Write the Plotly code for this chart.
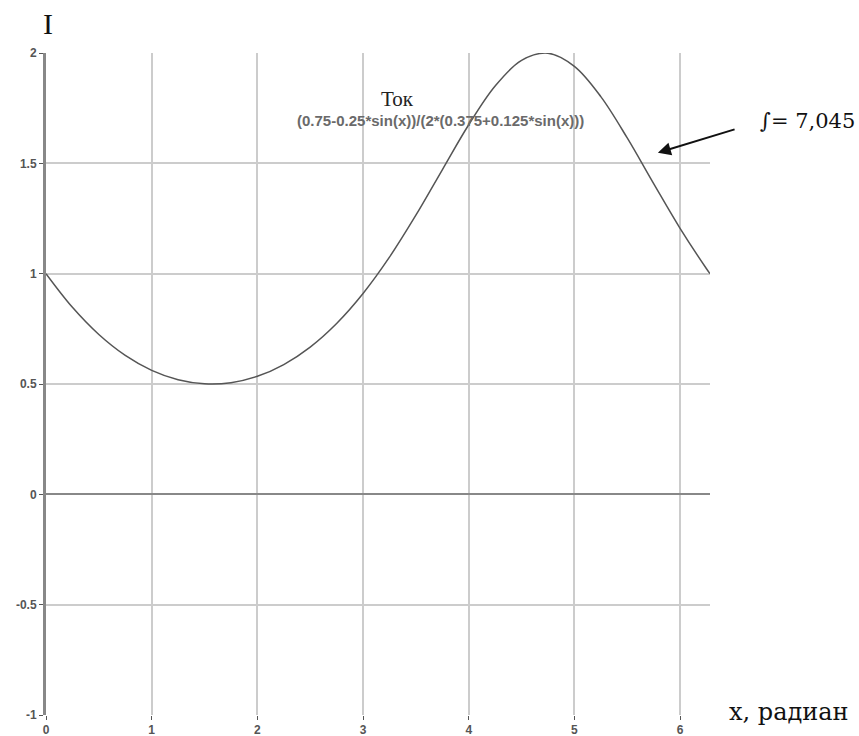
import plotly.graph_objects as go
import math

# Sampled current values I(x) over one period
x_vals = [0.0, 0.25, 0.5, 0.75, 1.0, 1.25, 1.5, 1.75, 2.0, 2.25, 2.5, 2.75, 3.0,
          3.25, 3.5, 3.75, 4.0, 4.25, 4.5, 4.75, 5.0, 5.25, 5.5, 5.75, 6.0, 6.25, 6.2832]
i_vals = [1.0, 0.8476, 0.7244, 0.6297, 0.5619, 0.5194, 0.5009, 0.5060, 0.5348,
          0.5881, 0.6674, 0.7743, 0.9102, 1.0748, 1.2648, 1.4708, 1.6748, 1.8504,
          1.9666, 1.9989, 1.9396, 1.8023, 1.6150, 1.4080, 1.2054, 1.0224, 1.0]

x_ticks = [0, 1, 2, 3, 4, 5, 6]
y_ticks = [-1, -0.5, 0, 0.5, 1, 1.5, 2]
y_tick_text = ["-1", "-0.5", "0", "0.5", "1", "1.5", "2"]

series_name = "Ток"
formula = "(0.75-0.25*sin(x))/(2*(0.375+0.125*sin(x)))"
integral_text = "∫= 7,045"

fig = go.Figure()
fig.add_trace(go.Scatter(
    x=x_vals, y=i_vals, mode="lines", line=dict(color="#555555", width=1.5, shape="spline"),
    hoverinfo="skip", showlegend=False,
))

tick_font = dict(family="Liberation Sans", size=12, color="#555555", weight="bold")
serif = "Liberation Serif"
wide_serif = "DejaVu Serif"

fig.update_layout(
    width=859, height=736,
    margin=dict(l=46, r=149, t=53, b=21),
    paper_bgcolor="white", plot_bgcolor="white",
    xaxis=dict(
        range=[0, 2 * math.pi], tickvals=x_ticks, ticktext=[str(v) for v in x_ticks],
        showgrid=True, gridcolor="#cccccc", gridwidth=2,
        zeroline=False, showline=False, automargin=False,
        ticks="outside", ticklen=4, tickcolor="#555555", tickwidth=1,
        tickfont=tick_font, fixedrange=True,
    ),
    yaxis=dict(
        range=[-1, 2], tickvals=y_ticks, ticktext=y_tick_text,
        showgrid=True, gridcolor="#cccccc", gridwidth=2,
        zeroline=True, zerolinecolor="#888888", zerolinewidth=2,
        showline=True, linecolor="#888888", linewidth=3, automargin=False,
        ticks="outside", ticklen=4, tickcolor="#555555", tickwidth=1,
        tickfont=tick_font, fixedrange=True,
    ),
    annotations=[
        dict(text="I", xref="paper", yref="paper", x=0.0, y=1.0, xshift=-5, yshift=30,
             yanchor="middle", showarrow=False,
             font=dict(family=serif, size=30, color="#111111")),
        dict(text=series_name, xref="x", yref="y", x=3.33, y=1.79, showarrow=False,
             font=dict(family=serif, size=21, color="#222222")),
        dict(text=formula, xref="x", yref="y", x=3.73, y=1.695, showarrow=False,
             font=dict(family="Liberation Sans", size=15, color="#6a6a6a", weight="bold")),
        dict(text=integral_text, xref="paper", yref="paper", x=1.0, y=1.0, xanchor="left",
             yanchor="middle", xshift=48, yshift=-68, showarrow=False,
             font=dict(family=wide_serif, size=21, color="#111111")),
        dict(text="", xref="x", yref="y", x=5.79, y=1.548, ax=6.53, ay=1.656,
             axref="x", ayref="y", showarrow=True, arrowhead=2, arrowsize=1.3,
             arrowwidth=2, arrowcolor="#111111"),
        dict(text="x, радиан", xref="paper", yref="paper", x=1.0, y=0.0, xanchor="left",
             yanchor="middle", xshift=17, yshift=3, showarrow=False,
             font=dict(family=wide_serif, size=24, color="#111111")),
    ],
)

fig.write_html("out.html")
